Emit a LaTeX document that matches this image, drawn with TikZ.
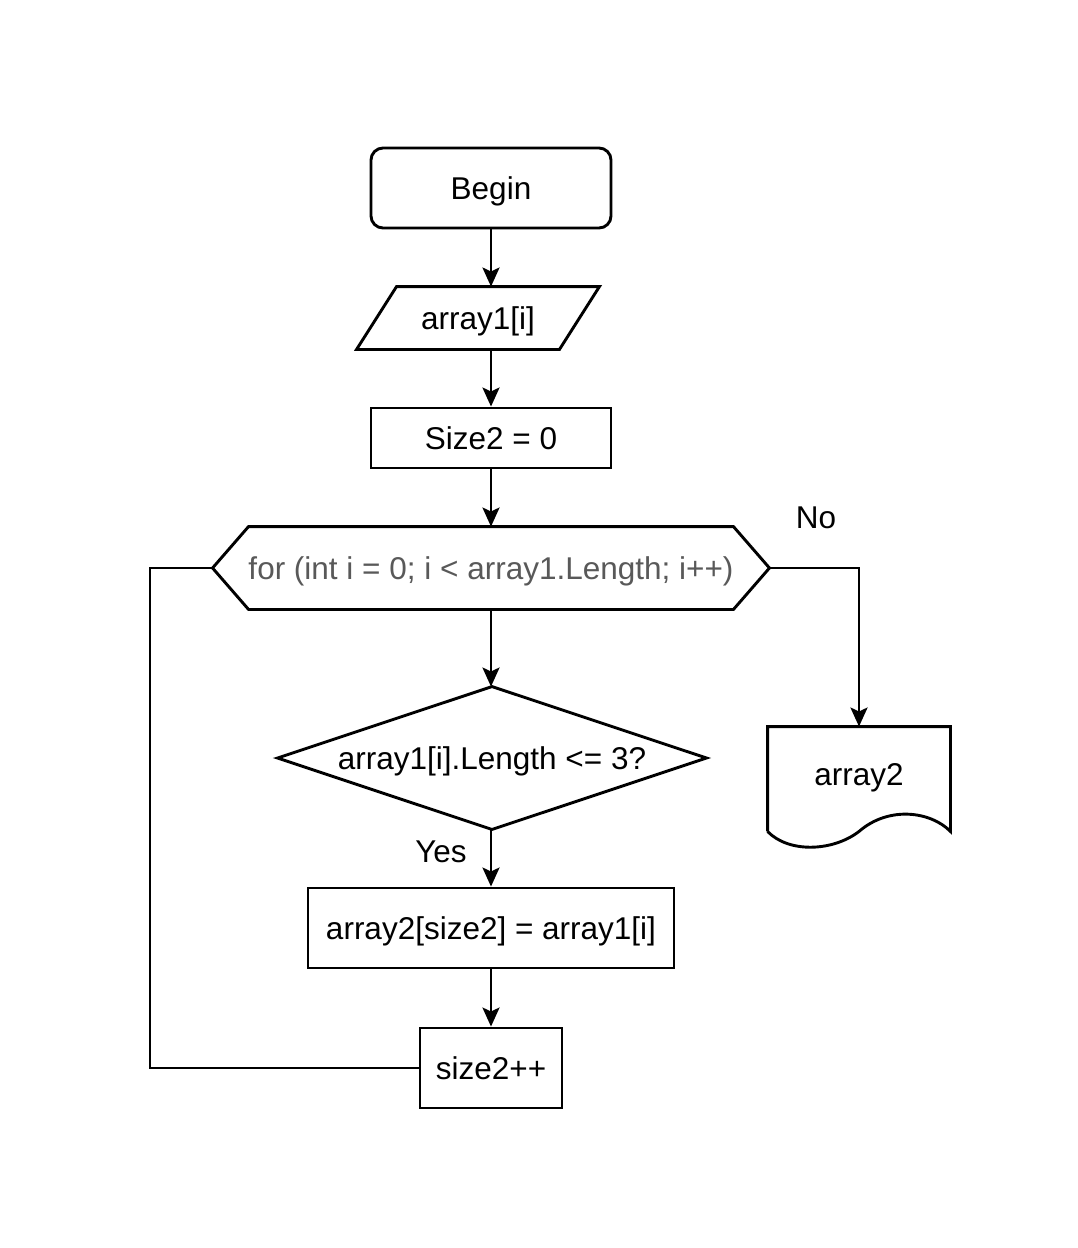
\documentclass[tikz,border=0pt]{standalone}
\usepackage{fontspec}
\setmainfont{Liberation Sans}
\usetikzlibrary{arrows.meta,calc}
\begin{document}
\begin{tikzpicture}[x=1pt,y=-1pt,
  line width=2.9pt,
  every node/.style={font=\fontsize{31.5}{36}\selectfont, inner sep=0pt, text depth=0pt},
  procbox/.style={draw, rectangle},
  ghost/.style={rectangle},
  arr/.style={-{Stealth[length=19pt,width=17pt,inset=4pt]}},
  lbl/.style={}]
\useasboundingbox (0,0) rectangle (1078,1248);
\fill[white] (0,0) rectangle (1078,1248);

\node[procbox, rounded corners=12pt, minimum width=240pt, minimum height=80pt] (begin) at (491,188) {Begin};
\node[ghost, minimum width=200pt, minimum height=60pt] (input) at (478,318) {array1[i]};
\draw ($(input.north west)+(20,0)$) -- ($(input.north east)+(20,0)$) -- ($(input.south east)+(-20,0)$) -- ($(input.south west)+(-20,0)$) -- cycle;
\node[procbox, minimum width=240pt, minimum height=60pt] (size) at (491,438) {Size2 = 0};
\node[ghost, minimum width=554pt, minimum height=80pt, text=black!65] (hex) at (491,568) {for (int i = 0; i < array1.Length; i++)};
\draw (hex.west) -- ($(hex.north west)+(36,0)$) -- ($(hex.north east)+(-36,0)$) -- (hex.east) -- ($(hex.south east)+(-36,0)$) -- ($(hex.south west)+(36,0)$) -- cycle;
\node[ghost, minimum width=426pt, minimum height=140pt] (dia) at (492,758) {array1[i].Length <= 3?};
\draw (dia.north) -- (dia.east) -- (dia.south) -- (dia.west) -- cycle;
\node[procbox, minimum width=366pt, minimum height=80pt] (assign) at (491,928) {array2[size2] = array1[i]};
\node[procbox, minimum width=142pt, minimum height=80pt] (inc) at (491,1068) {size2++};
\node[ghost, minimum width=180pt, minimum height=102pt] (doc) at (859,779) {\raisebox{9pt}{array2}};
\draw (doc.south west) -- (doc.north west) -- (doc.north east) -- (doc.south east)
  .. controls ($(doc.south)+(72,-20)$) and ($(doc.south)+(30,-26)$) .. (doc.south)
  .. controls ($(doc.south)+(-26,20)$) and ($(doc.south)+(-70,22)$) .. (doc.south west);

\coordinate (loopc) at (150,568);

\draw[arr] (begin.south) -- (begin.south |- input.north);
\draw[arr] (begin.south |- input.south) -- (size.north);
\draw[arr] (size.south) -- (size.south |- hex.north);
\draw[arr] (size.south |- hex.south) -- (size.south |- dia.north);
\draw[arr] (size.south |- dia.south) -- (assign.north);
\draw[arr] (assign.south) -- (inc.north);
\draw (inc.west) -| (loopc) -- (hex.west);
\draw[arr] (hex.east) -| (doc.north);

\node[lbl] (yes) at (441,852) {Yes};
\node[lbl] (no) at (816,518) {No};
\end{tikzpicture}
\end{document}
